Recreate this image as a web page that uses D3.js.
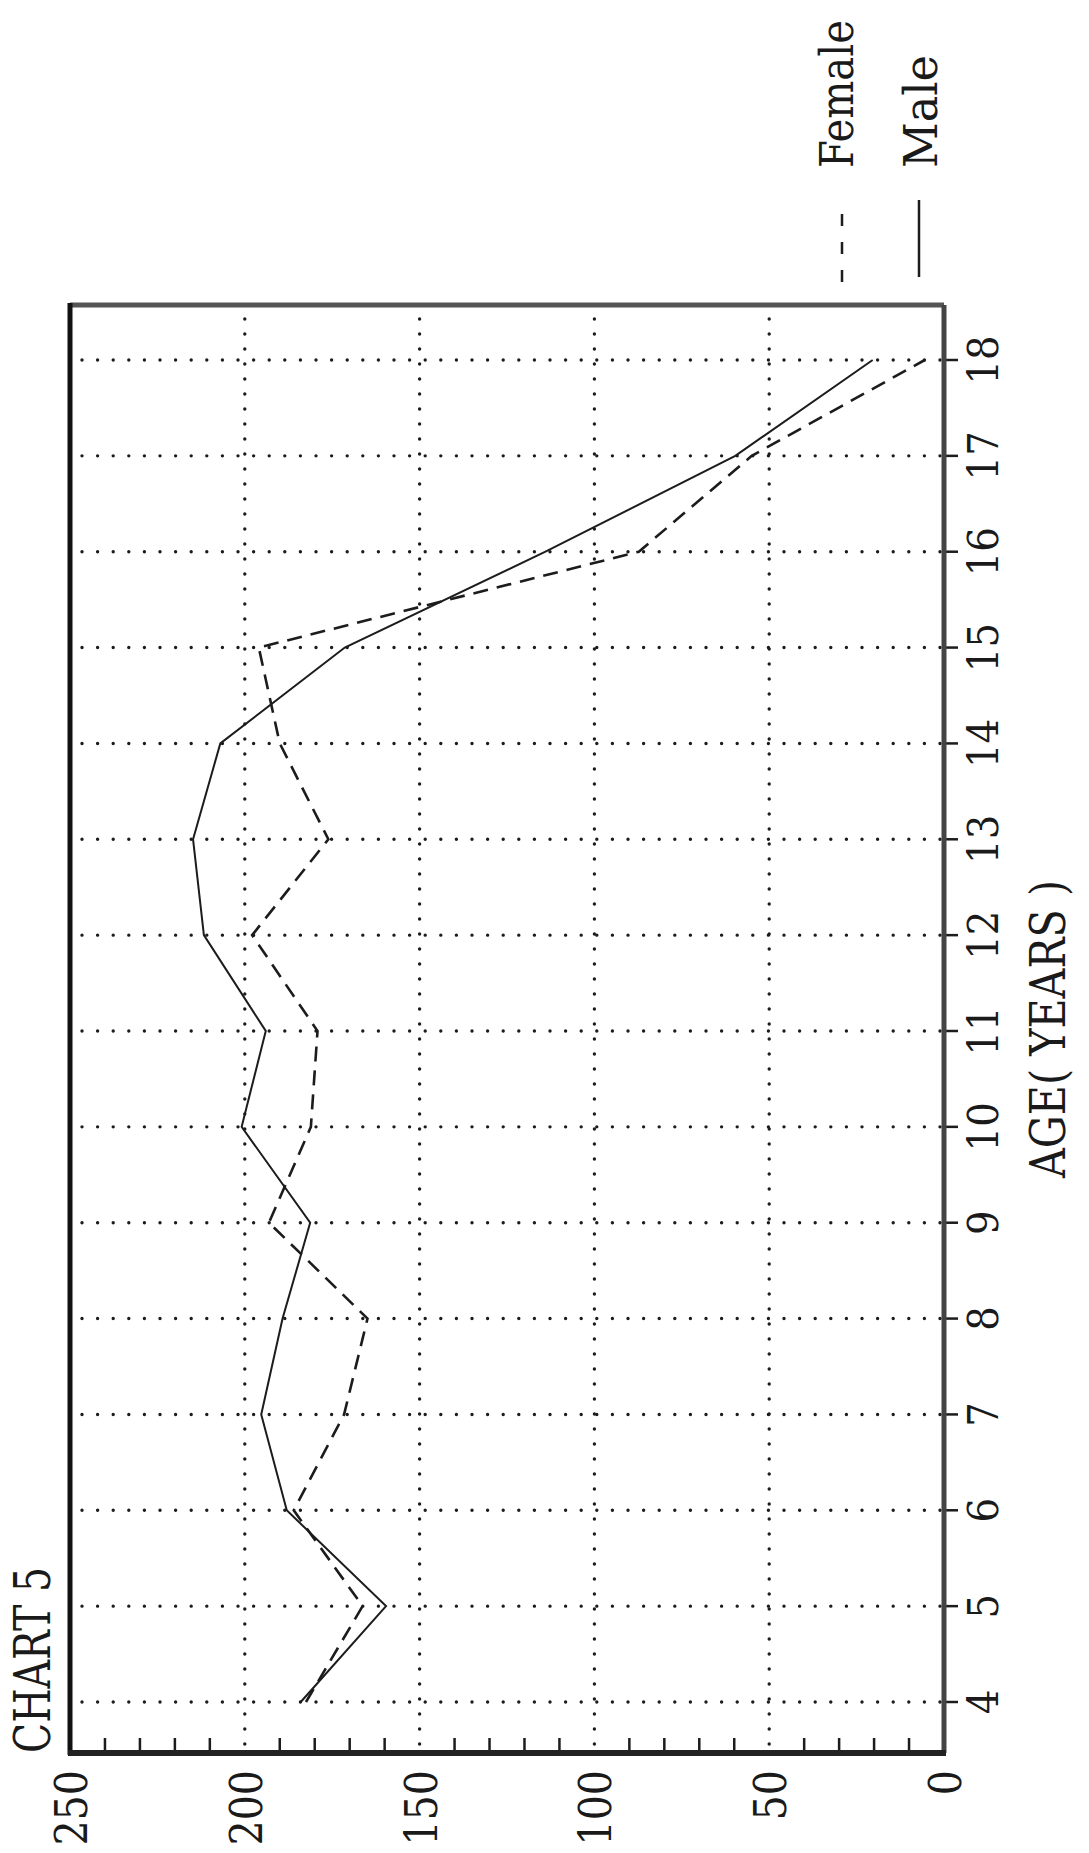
<!DOCTYPE html>
<html>
<head>
<meta charset="utf-8">
<script src="https://cdn.jsdelivr.net/npm/d3@7"></script>
<style>
  html, body { margin: 0; padding: 0; background: #fff; }
  svg { display: block; }
  text { font-family: "DejaVu Serif Condensed", "DejaVu Serif", "Liberation Serif", serif; fill: #1a1a1a; }
</style>
</head>
<body>
<div id="chart"></div>
<script>
var ages = [4, 5, 6, 7, 8, 9, 10, 11, 12, 13, 14, 15, 16, 17, 18];
var male = [184, 159.6, 188, 195.3, 189.2, 181.3, 200.9, 194, 211.7, 214.8, 207, 171.4, 114, 59.7, 20.4];
var female = [182.5, 166.3, 186, 171.6, 164.9, 193.1, 181.1, 179.2, 197.9, 176.1, 190, 196, 87.3, 55, 5.5];
var valueTicks = [0, 50, 100, 150, 200, 250];
var gridValues = [50, 100, 150, 200];
var seriesNames = ["Female", "Male"];
var chartTitle = "CHART 5";
var axisTitle = "AGE( YEARS )";

var W = 1089, H = 1853;
// page is printed sideways: values run right->left, ages run bottom->top
var frame = {left: 70, right: 944, top: 305, bottom: 1753};

var svg = d3.select("#chart").append("svg")
  .attr("width", W)
  .attr("height", H);

var x = d3.scaleLinear().domain([0, 250]).range([frame.right, frame.left]);
var y = d3.scaleLinear().domain([4, 18]).range([1702, 360]);

var ink = "#1c1c1c";

// dotted grid
var grid = svg.append("g");
grid.selectAll("line.hgrid")
  .data(ages)
  .enter().append("line")
  .attr("class", "hgrid")
  .attr("x1", frame.left + 12)
  .attr("x2", frame.right - 4)
  .attr("y1", function(d){ return y(d); })
  .attr("y2", function(d){ return y(d); })
  .attr("stroke", ink)
  .attr("stroke-width", 3.4)
  .attr("stroke-linecap", "round")
  .attr("stroke-dasharray", "0,15.6");

grid.selectAll("line.vgrid")
  .data(gridValues)
  .enter().append("line")
  .attr("class", "vgrid")
  .attr("x1", function(d){ return x(d); })
  .attr("x2", function(d){ return x(d); })
  .attr("y1", frame.top + 14)
  .attr("y2", frame.bottom - 4)
  .attr("stroke", ink)
  .attr("stroke-width", 3.4)
  .attr("stroke-linecap", "round")
  .attr("stroke-dasharray", "0,15");

// minor ticks along the value axis (every 10, skipping the gridded 50s)
var minor = d3.range(10, 250, 10).filter(function(v){ return v % 50 !== 0; });
svg.append("g").selectAll("line")
  .data(minor)
  .enter().append("line")
  .attr("x1", function(d){ return x(d); })
  .attr("x2", function(d){ return x(d); })
  .attr("y1", frame.bottom)
  .attr("y2", frame.bottom - 15)
  .attr("stroke", ink)
  .attr("stroke-width", 2.5);

// age ticks, outside on the right
svg.append("g").selectAll("line")
  .data(ages)
  .enter().append("line")
  .attr("x1", frame.right)
  .attr("x2", frame.right + 14)
  .attr("y1", function(d){ return y(d); })
  .attr("y2", function(d){ return y(d); })
  .attr("stroke", ink)
  .attr("stroke-width", 2.5);

// frame
svg.append("line")
  .attr("x1", frame.left).attr("x2", frame.right)
  .attr("y1", frame.top).attr("y2", frame.top)
  .attr("stroke", "#555").attr("stroke-width", 5);
svg.append("line")
  .attr("x1", frame.right).attr("x2", frame.right)
  .attr("y1", frame.top).attr("y2", frame.bottom)
  .attr("stroke", "#444").attr("stroke-width", 5);
svg.append("line")
  .attr("x1", frame.left).attr("x2", frame.left)
  .attr("y1", frame.top - 2).attr("y2", frame.bottom + 2)
  .attr("stroke", "#111").attr("stroke-width", 5);
svg.append("line")
  .attr("x1", frame.left - 2).attr("x2", frame.right + 2)
  .attr("y1", frame.bottom).attr("y2", frame.bottom)
  .attr("stroke", "#222").attr("stroke-width", 6);

// series
var line = d3.line()
  .x(function(d){ return x(d[1]); })
  .y(function(d){ return y(d[0]); });

svg.append("path")
  .datum(d3.zip(ages, female))
  .attr("d", line)
  .attr("fill", "none")
  .attr("stroke", ink)
  .attr("stroke-width", 2.6)
  .attr("stroke-dasharray", "15,9");

svg.append("path")
  .datum(d3.zip(ages, male))
  .attr("d", line)
  .attr("fill", "none")
  .attr("stroke", ink)
  .attr("stroke-width", 2);

// value labels under the bottom edge, reading upward
svg.append("g").selectAll("text")
  .data(valueTicks)
  .enter().append("text")
  .attr("transform", function(d){ return "translate(" + (x(d) + 17) + ",1770) rotate(-90)"; })
  .attr("text-anchor", "end")
  .style("font-size", "44px")
  .text(function(d){ return d; });

// age labels to the right
svg.append("g").selectAll("text")
  .data(ages)
  .enter().append("text")
  .attr("transform", function(d){ return "translate(998," + y(d) + ") rotate(-90)"; })
  .attr("text-anchor", "middle")
  .style("font-size", "43px")
  .text(function(d){ return d; });

svg.append("text")
  .attr("transform", "translate(1065," + ((frame.top + frame.bottom) / 2) + ") rotate(-90)")
  .attr("text-anchor", "middle")
  .attr("textLength", 298)
  .attr("lengthAdjust", "spacingAndGlyphs")
  .style("font-size", "48px")
  .text(axisTitle);

svg.append("text")
  .attr("transform", "translate(50," + frame.bottom + ") rotate(-90)")
  .attr("textLength", 186)
  .attr("lengthAdjust", "spacingAndGlyphs")
  .style("font-size", "50px")
  .text(chartTitle);

// legend
var legend = [
  {name: seriesNames[0], x: 842, dash: "12,16", textX: 853, len: 148, y1: 210, y2: 282},
  {name: seriesNames[1], x: 919, dash: null, textX: 937, len: 113, y1: 200, y2: 277}
];
var lg = svg.append("g").selectAll("g")
  .data(legend)
  .enter().append("g");
lg.append("line")
  .attr("x1", function(d){ return d.x; })
  .attr("x2", function(d){ return d.x; })
  .attr("y1", function(d){ return d.y2; })
  .attr("y2", function(d){ return d.y1; })
  .attr("stroke", ink)
  .attr("stroke-width", 2.5)
  .attr("stroke-dasharray", function(d){ return d.dash; });
lg.append("text")
  .attr("transform", function(d){ return "translate(" + d.textX + ",168) rotate(-90)"; })
  .attr("textLength", function(d){ return d.len; })
  .attr("lengthAdjust", "spacingAndGlyphs")
  .style("font-size", "46px")
  .text(function(d){ return d.name; });
</script>
</body>
</html>
